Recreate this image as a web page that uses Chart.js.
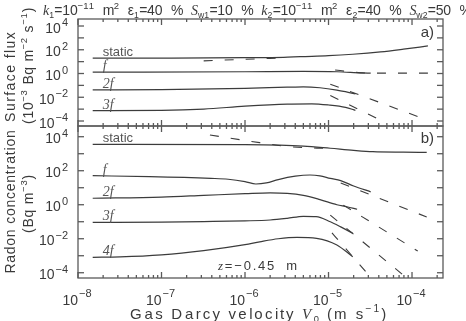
<!DOCTYPE html>
<html><head><meta charset="utf-8">
<script src="https://cdn.jsdelivr.net/npm/chart.js@4/dist/chart.umd.min.js"></script>
<style>html,body{margin:0;padding:0;background:#fff;overflow:hidden}canvas{display:block}</style>
</head><body>
<canvas id="c" width="466" height="321"></canvas>
<script>
// ---- Panel a) Surface flux (10^-3 Bq m^-2 s^-1) vs gas Darcy velocity (m/s)
const vA_static = [1.5e-8, 1e-7, 1e-6, 2.9e-6, 4.6e-6, 1e-5, 1.95e-5, 4.2e-5, 7.9e-5, 1.55e-4];
const A_static  = [19.5, 20, 21.4, 23, 26.3, 31.6, 41.7, 66, 112, 209];
const vA_staticD = [3.2e-7, 1e-6, 2.5e-6];
const A_staticD  = [11.5, 15.8, 19.5];
const vA_f = [1.5e-8, 1e-6, 5e-6, 1.26e-5, 2.5e-5, 3.2e-5];
const A_f  = [1.29, 1.41, 1.51, 1.41, 1.12, 1.07];
const vA_fD = [1.2e-5, 1.8e-5, 3.2e-5, 1.55e-4];
const A_fD  = [2.0, 1.41, 1.07, 1.07];
const vA_2f = [1.5e-8, 1e-7, 1e-6, 3.2e-6, 5e-6, 7.9e-6, 1.26e-5, 2.1e-5];
const A_2f  = [0.0417, 0.0447, 0.0562, 0.0708, 0.0759, 0.0631, 0.0398, 0.0195];
const vA_2fD = [1.05e-5, 1.5e-4];
const A_2fD  = [0.126, 1.26e-4];
const vA_3f = [1.5e-8, 1e-7, 3.2e-7, 1e-6, 3.2e-6, 6.3e-6, 1e-5, 1.6e-5, 2.1e-5];
const A_3f  = [7.6e-4, 7.9e-4, 1e-3, 1.78e-3, 2.69e-3, 2.82e-3, 2.24e-3, 1.41e-3, 7.9e-4];
const vA_3fD = [1.05e-5, 5e-5];
const A_3fD  = [0.0138, 6.6e-5];

// ---- Panel b) Radon concentration (Bq m^-3) at z = -0.45 m
const vB_static = [1.5e-8, 1e-6, 2.6e-6, 5e-6, 1.05e-5, 2e-5, 3.4e-5, 7.9e-5, 1.5e-4];
const B_static  = [3550, 3470, 3240, 2820, 2090, 1580, 1320, 1230, 1200];
const vB_staticD = [3.8e-7, 1.5e-6, 3.5e-6, 1.05e-5];
const B_staticD  = [12600, 4470, 2570, 2000];
const vB_f = [1.5e-8, 7.2e-8, 3.9e-7, 6.3e-7, 1e-6, 1.35e-6, 1.8e-6, 2.5e-6, 4e-6, 6e-6, 7.9e-6, 1.05e-5, 1.4e-5, 2e-5, 3.2e-5];
const B_f  = [51, 45, 35.5, 31.6, 22.9, 16.6, 19.1, 30.2, 47.9, 56.2, 50.1, 35.5, 26.3, 12.6, 5.75];
const vB_fD = [1.4e-5, 1.5e-4];
const B_fD  = [19, 0.19];
const vB_2f = [1.5e-8, 1e-7, 3.2e-7, 1e-6, 2e-6, 3.2e-6, 5e-6, 7.9e-6, 1.26e-5, 1.66e-5, 2.2e-5];
const B_2f  = [2.4, 2.82, 3.55, 4.47, 5.01, 4.68, 3.55, 2.0, 1.0, 0.76, 0.54];
const vB_2fD = [1.5e-5, 1.17e-4];
const B_2fD  = [0.95, 1.9e-3];
const vB_3f = [1.5e-8, 1e-7, 3.2e-7, 1e-6, 2e-6, 3.2e-6, 5e-6, 7.1e-6, 1.05e-5, 1.4e-5, 1.95e-5];
const B_3f  = [0.091, 0.095, 0.102, 0.112, 0.126, 0.158, 0.209, 0.2, 0.1, 0.05, 0.021];
const vB_3fD = [1.05e-5, 7.6e-5];
const B_3fD  = [0.245, 8.3e-5];
const vB_4f = [1.5e-8, 3.2e-8, 1e-7, 3.2e-7, 1e-6, 1.5e-6, 2.5e-6, 4.2e-6, 7.2e-6, 1.26e-5, 1.95e-5];
const B_4f  = [8.1e-4, 8.5e-4, 1.12e-3, 2.0e-3, 4.5e-3, 6.6e-3, 0.01, 0.012, 0.0105, 4.3e-3, 8.7e-4];
const vB_4fD = [1.1e-5, 2.9e-5];
const B_4fD  = [0.022, 9.5e-5];

// tick labels (exponents of 10)
const xTickExps = [-8, -7, -6, -5, -4];
const yTickExps = [4, 2, 0, -2, -4];
const namesA = ['static', 'f', '2f', '3f'];
const namesB = ['static', 'f', '2f', '3f', '4f'];

const LINE = '#3c3c3c', FRAME = '#5a5a5a', TXT = '#3a3a3a';
const SANS = '"Liberation Sans", Arial, sans-serif';
const SERIF = '"Liberation Serif", "DejaVu Serif", serif';

function pts(xs, ys) { return xs.map((x, i) => ({ x: x, y: ys[i] })); }
function solid(xs, ys, axis, name) {
  return { data: pts(xs, ys), yAxisID: axis, borderColor: LINE, borderWidth: 1.2, pointRadius: 0,
           cubicInterpolationMode: 'monotone', fill: false, seriesName: name };
}
function dashed(xs, ys, axis) {
  return { data: pts(xs, ys), yAxisID: axis, borderColor: LINE, borderWidth: 1.1, pointRadius: 0,
           borderDash: [9, 12], cubicInterpolationMode: 'monotone', fill: false };
}

const datasets = [
  solid(vA_static, A_static, 'yA', namesA[0]), dashed(vA_staticD, A_staticD, 'yA'),
  solid(vA_f, A_f, 'yA', namesA[1]), dashed(vA_fD, A_fD, 'yA'),
  solid(vA_2f, A_2f, 'yA', namesA[2]), dashed(vA_2fD, A_2fD, 'yA'),
  solid(vA_3f, A_3f, 'yA', namesA[3]), dashed(vA_3fD, A_3fD, 'yA'),
  solid(vB_static, B_static, 'yB', namesB[0]), dashed(vB_staticD, B_staticD, 'yB'),
  solid(vB_f, B_f, 'yB', namesB[1]), dashed(vB_fD, B_fD, 'yB'),
  solid(vB_2f, B_2f, 'yB', namesB[2]), dashed(vB_2fD, B_2fD, 'yB'),
  solid(vB_3f, B_3f, 'yB', namesB[3]), dashed(vB_3fD, B_3fD, 'yB'),
  solid(vB_4f, B_4f, 'yB', namesB[4]), dashed(vB_4fD, B_4fD, 'yB')
];

// rich text: tokens {t, it, sub, sup, serif}; letter-spaced, fitted to a target width
function drawRich(c, tokens, x, y, size, targetW) {
  const LS = 1.2;
  let cx = 0;
  const parts = [];
  tokens.forEach(tk => {
    let fs = size, dy = 0;
    if (tk.sub) { fs = size * 0.62; dy = size * 0.22; }
    if (tk.sup) { fs = size * 0.68; dy = -size * 0.45; }
    const fam = tk.serif ? SERIF : SANS;
    const font = (tk.it ? 'italic ' : '') + fs + 'px ' + fam;
    c.font = font;
    for (const ch of tk.t) {
      const w = c.measureText(ch).width;
      parts.push({ t: ch, font: font, x: cx, dy: dy });
      cx += w + LS;
    }
  });
  cx -= LS;
  const sx = targetW ? targetW / cx : 1;
  c.save();
  c.translate(x, y);
  c.textBaseline = 'alphabetic';
  c.textAlign = 'left';
  parts.forEach(p => { c.font = p.font; c.fillText(p.t, p.x * sx, p.dy); });
  c.restore();
  return cx * sx;
}

function drawPow(c, exp, xRightOf10, yBase10, yBaseExp, size, esize) {
  c.font = size + 'px ' + SANS;
  c.textAlign = 'right'; c.textBaseline = 'alphabetic';
  c.fillText('10', xRightOf10, yBase10);
  c.font = esize + 'px ' + SANS;
  c.textAlign = 'left';
  c.fillText(String(exp).replace('-', '\u2212'), xRightOf10 + 1, yBaseExp);
}

const framePlugin = {
  id: 'frame',
  afterDatasetsDraw(chart) {
    const c = chart.ctx, xs = chart.scales.x, ca = chart.chartArea;
    const L = ca.left, R = ca.right;
    c.save();
    c.strokeStyle = FRAME; c.lineWidth = 1.3;
    function ln(x1, y1, x2, y2) { c.beginPath(); c.moveTo(x1, y1); c.lineTo(x2, y2); c.stroke(); }
    ['yA', 'yB'].forEach(id => {
      const ys = chart.scales[id];
      const top = ys.top, bot = ys.bottom;
      c.strokeRect(L, top, R - L, bot - top);
      for (let e = Math.ceil(Math.log10(ys.min) - 1e-9); e <= Math.floor(Math.log10(ys.max) + 1e-9); e++) {
        const py = ys.getPixelForValue(Math.pow(10, e));
        ln(L, py, L + 6, py); ln(R, py, R - 6, py);
      }
      for (let e = -8; e <= -4; e++) for (let m = 1; m <= 9; m++) {
        const v = m * Math.pow(10, e);
        if (v < xs.min * 0.999 || v > xs.max) continue;
        const px = xs.getPixelForValue(v), len = m === 1 ? 6 : 3;
        ln(px, top, px, top + len); ln(px, bot, px, bot - len);
      }
      // y tick labels
      c.fillStyle = TXT;
      yTickExps.forEach(e => {
        const py = ys.getPixelForValue(Math.pow(10, e));
        c.font = '11px ' + SANS;
        const ew = c.measureText(String(e).replace('-', '\u2212')).width;
        const right10 = 68 - ew - 1;
        drawPow(c, e, right10, py + 6.5, py, 14, 11);
      });
    });
    // x tick labels
    c.fillStyle = TXT;
    xTickExps.forEach(e => {
      const px = xs.getPixelForValue(Math.pow(10, e));
      drawPow(c, e, px, 305, 297, 14, 11);
    });
    // series labels
    chart.data.datasets.forEach((ds) => {
      if (!ds.seriesName) return;
      const ys = chart.scales[ds.yAxisID];
      const p0 = ds.data[0];
      const px = xs.getPixelForValue(p0.x) + 10;
      const py = ys.getPixelForValue(p0.y) - 2;
      c.fillStyle = '#555';
      c.textAlign = 'left'; c.textBaseline = 'alphabetic';
      if (ds.seriesName === 'static') {
        c.font = '13px ' + SANS; c.fillText('static', px, py);
      } else {
        c.font = 'italic 14px ' + SERIF; c.fillText(ds.seriesName, px, py);
      }
    });
    // panel tags
    c.fillStyle = TXT; c.textAlign = 'right'; c.textBaseline = 'middle';
    c.font = '15px ' + SANS;
    c.fillText('a)', R - 9, chart.scales.yA.top + 14);
    c.fillText('b)', R - 9, chart.scales.yB.top + 13);
    // z label
    drawRich(c, [{ t: 'z', it: true, serif: true }, { t: '=\u22120.45  m' }], 218, 270, 13, 80);
    // title
    c.fillStyle = TXT;
    drawRich(c, [
      { t: 'k', it: true, serif: true }, { t: '1', sub: true }, { t: '=10' }, { t: '\u221211', sup: true },
      { t: '  m' }, { t: '2', sup: true }, { t: '  \u03b5' }, { t: '1', sub: true }, { t: '=40  %  ' },
      { t: 'S', it: true, serif: true }, { t: 'w1', sub: true }, { t: '=10  %  ' },
      { t: 'k', it: true, serif: true }, { t: '2', sub: true }, { t: '=10' }, { t: '\u221211', sup: true },
      { t: '  m' }, { t: '2', sup: true }, { t: '  \u03b5' }, { t: '2', sub: true }, { t: '=40  %  ' },
      { t: 'S', it: true, serif: true }, { t: 'w2', sub: true }, { t: '=50  %' }
    ], 43, 15, 14, 427);
    // y axis titles (rotated)
    function vtext(tokens, cxp, cyp, size, len) {
      c.save(); c.translate(cxp, cyp); c.rotate(-Math.PI / 2);
      drawRich(c, tokens, -len / 2, size * 0.36, size, len);
      c.restore();
    }
    vtext([{ t: 'Surface flux' }], 10, 77, 14, 90);
    vtext([{ t: '(10' }, { t: '\u22123', sup: true }, { t: ' Bq m' }, { t: '\u22122', sup: true }, { t: ' s' }, { t: '\u22121', sup: true }, { t: ')' }], 28, 66, 14, 116);
    vtext([{ t: 'Radon concentration' }], 10, 202, 14, 143);
    vtext([{ t: '(Bq m' }, { t: '\u22123', sup: true }, { t: ')' }], 28, 204, 14, 58);
    // x axis title
    drawRich(c, [{ t: 'Gas Darcy velocity ' }, { t: 'V', it: true, serif: true }, { t: '0', sub: true },
      { t: ' (m s' }, { t: '\u22121', sup: true }, { t: ')' }], 130, 319, 15, 257);
    c.restore();
  }
};

new Chart(document.getElementById('c'), {
  type: 'line',
  data: { datasets: datasets },
  options: {
    responsive: false, animation: false, devicePixelRatio: 1,
    layout: { padding: { top: 19, right: 23, left: 0, bottom: 0 } },
    plugins: { legend: { display: false }, tooltip: { enabled: false } },
    scales: {
      x: { type: 'logarithmic', min: 1e-8, max: 2.35e-4, position: 'bottom',
           ticks: { display: false }, grid: { display: false }, border: { display: false },
           afterFit(s) { s.height = 43; } },
      yB: { type: 'logarithmic', min: 4.9e-5, max: 4.27e4, position: 'left', stack: 'v', stackWeight: 152,
            ticks: { display: false }, grid: { display: false }, border: { display: false },
            afterFit(s) { s.width = 78; } },
      yA: { type: 'logarithmic', min: 3.8e-5, max: 3.89e4, position: 'left', stack: 'v', stackWeight: 107,
            ticks: { display: false }, grid: { display: false }, border: { display: false },
            afterFit(s) { s.width = 78; } }
    }
  },
  plugins: [framePlugin]
});
</script>
</body></html>
